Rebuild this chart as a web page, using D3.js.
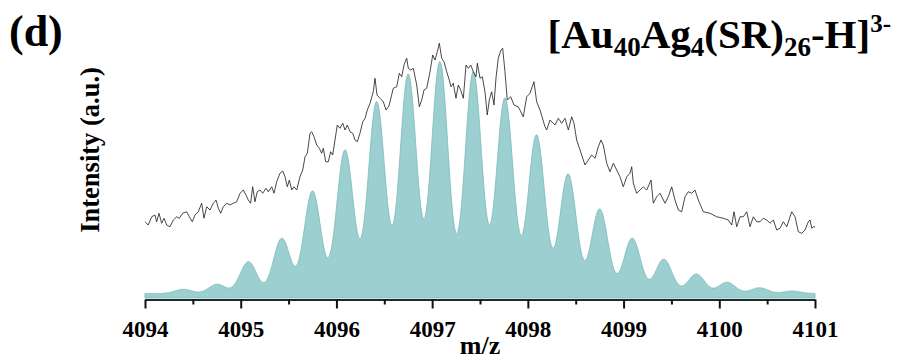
<!DOCTYPE html>
<html>
<head>
<meta charset="utf-8">
<script src="https://cdn.jsdelivr.net/npm/d3@7/dist/d3.min.js"></script>
<style>
  html, body { margin: 0; padding: 0; background: #fff; }
  svg { display: block; font-family: "Liberation Serif", "Times New Roman", serif; }
</style>
</head>
<body>
<svg id="chart" width="909" height="360"></svg>
<script>
// ---- data ----
const xTicks = [4094, 4095, 4096, 4097, 4098, 4099, 4100, 4101];
const xMinorTicks = [4094.5, 4095.5, 4096.5, 4097.5, 4098.5, 4099.5, 4100.5];

// simulated isotope pattern: peak m/z and relative intensity
const simPeakMz = [4094.40, 4094.755, 4095.08, 4095.43, 4095.75, 4096.09, 4096.42, 4096.75, 4097.08, 4097.43,
                   4097.76, 4098.09, 4098.42, 4098.75, 4099.09, 4099.42, 4099.76, 4100.08, 4100.42, 4100.76];
const simPeakInt = [1.7, 3.7, 12.7, 22.1, 41.0, 57.4, 76.7, 87.7, 92.7, 88.7,
                    78.1, 63.4, 47.8, 33.8, 22.1, 13.7, 7.8, 4.5, 2.3, 1.0];
const simBaseline = 1.8;
const simPeakSigma = 0.087;

const expMz = [4094.000,4094.034,4094.070,4094.104,4094.122,4094.146,4094.174,4094.199,4094.227,4094.261,
4094.296,4094.331,4094.358,4094.394,4094.436,4094.463,4094.494,4094.522,4094.557,4094.592,
4094.616,4094.645,4094.679,4094.714,4094.742,4094.766,4094.791,4094.818,4094.854,4094.888,
4094.923,4094.958,4094.993,4095.027,4095.055,4095.079,4095.104,4095.125,4095.149,4095.173,
4095.202,4095.230,4095.264,4095.288,4095.324,4095.348,4095.376,4095.410,4095.439,4095.463,
4095.487,4095.508,4095.533,4095.557,4095.585,4095.619,4095.648,4095.672,4095.696,4095.724,
4095.742,4095.766,4095.794,4095.821,4095.846,4095.863,4095.888,4095.915,4095.940,4095.961,
4095.985,4096.009,4096.037,4096.066,4096.090,4096.114,4096.142,4096.170,4096.194,4096.218,
4096.246,4096.275,4096.299,4096.323,4096.351,4096.385,4096.403,4096.424,4096.455,4096.490,
4096.518,4096.549,4096.594,4096.630,4096.657,4096.682,4096.706,4096.734,4096.751,4096.776,
4096.803,4096.839,4096.866,4096.891,4096.915,4096.943,4096.978,4097.006,4097.030,4097.054,
4097.075,4097.100,4097.124,4097.152,4097.179,4097.197,4097.221,4097.249,4097.273,4097.298,
4097.326,4097.354,4097.378,4097.403,4097.430,4097.458,4097.472,4097.500,4097.524,4097.552,
4097.576,4097.597,4097.622,4097.646,4097.667,4097.691,4097.720,4097.737,4097.761,4097.785,
4097.821,4097.855,4097.900,4097.952,4097.988,4098.022,4098.064,4098.092,4098.127,4098.179,
4098.197,4098.231,4098.284,4098.318,4098.354,4098.388,4098.423,4098.458,4098.482,4098.510,
4098.545,4098.597,4098.632,4098.667,4098.702,4098.736,4098.764,4098.788,4098.824,4098.858,
4098.893,4098.928,4098.963,4098.997,4099.033,4099.067,4099.085,4099.102,4099.137,4099.172,
4099.206,4099.242,4099.287,4099.311,4099.346,4099.381,4099.433,4099.467,4099.503,4099.537,
4099.572,4099.607,4099.642,4099.676,4099.712,4099.746,4099.781,4099.833,4099.903,4099.973,
4100.042,4100.094,4100.130,4100.154,4100.182,4100.217,4100.251,4100.287,4100.321,4100.356,
4100.391,4100.426,4100.460,4100.496,4100.530,4100.565,4100.600,4100.635,4100.669,4100.705,
4100.757,4100.791,4100.826,4100.861,4100.896,4100.930,4100.948,4100.966,4100.982,4101.000];
const expInt = [30.5,29.2,32.5,33.2,30.5,33.9,29.9,31.9,29.2,28.5,
31.2,32.5,31.9,33.9,34.5,32.5,30.5,33.2,34.5,37.9,
31.9,36.5,35.2,37.9,39.2,35.9,33.9,36.5,37.9,37.2,
37.9,38.5,41.9,43.2,41.2,39.2,37.9,44.5,38.5,42.5,
43.2,41.9,43.9,42.5,44.5,41.9,46.5,49.9,50.8,48.5,
44.5,47.2,43.2,44.5,43.2,48.5,51.2,56.5,57.9,65.9,
66.5,64.5,61.2,59.9,57.9,59.9,54.5,54.5,58.5,57.2,
63.2,69.2,67.9,69.9,67.2,69.2,66.5,65.9,63.2,62.5,
65.9,70.5,71.9,75.2,77.9,82.5,87.9,81.2,79.9,78.5,
75.2,76.8,83.9,84.5,89.9,88.5,93.2,95.9,91.9,91.2,
91.9,85.2,76.5,79.2,83.2,83.9,90.5,97.2,95.2,98.5,
101.9,95.9,94.5,90.5,87.2,84.5,85.9,79.9,85.2,83.2,
79.9,93.2,91.9,93.2,90.5,88.5,93.9,87.9,88.5,82.5,
73.2,79.2,82.5,77.2,87.9,95.9,99.2,99.9,90.5,79.2,
80.5,77.2,76.5,72.5,80.5,81.9,86.5,78.5,75.2,68.5,
67.2,71.2,69.2,71.9,69.9,71.9,67.2,72.5,69.9,63.2,
59.2,53.2,55.2,57.2,55.9,60.5,63.2,61.2,53.9,50.5,
53.9,51.2,48.5,44.5,48.5,49.9,52.5,45.9,41.9,43.2,
44.5,43.2,47.2,37.9,40.5,41.9,37.9,40.5,44.5,39.2,
35.2,34.5,40.5,42.5,41.9,43.2,39.2,34.5,33.9,32.5,
31.9,31.2,29.2,34.5,28.5,32.5,32.5,34.5,28.5,32.5,
30.5,30.5,31.9,31.2,29.9,31.2,27.2,27.9,30.5,28.5,
34.5,32.5,26.5,25.9,27.2,30.5,31.2,27.9,28.5,28.4];

// ---- drawing ----
const svg = d3.select("#chart");
const x = d3.scaleLinear().domain([4094, 4101]).range([145, 815]);
const y = d3.scaleLinear().domain([0, 100]).range([298, 48]);

// simulated curve sampled from peak list (gaussian peak shape)
const simCurve = d3.range(4094, 4101.0001, 0.004).map(m => {
  let v = simBaseline;
  for (let i = 0; i < simPeakMz.length; i++) {
    const d = m - simPeakMz[i];
    v += simPeakInt[i] * Math.exp(-d * d / (2 * simPeakSigma * simPeakSigma));
  }
  return [m, v];
});

svg.append("path")
  .datum(simCurve)
  .attr("fill", "#9ccfcf")
  .attr("stroke", "#7ab9b9")
  .attr("stroke-width", 0.8)
  .attr("d", d3.area().x(d => x(d[0])).y0(y(0)).y1(d => y(d[1])).curve(d3.curveLinear));

// experimental line
const expData = expMz.map((m, i) => [m, expInt[i]]);
svg.append("path")
  .datum(expData)
  .attr("fill", "none")
  .attr("stroke", "#1a1a1a")
  .attr("stroke-width", 0.8)
  .attr("stroke-linejoin", "round")
  .attr("d", d3.line().x(d => x(d[0])).y(d => y(d[1])));

// x axis
const axisG = svg.append("g").attr("transform", "translate(0,299.5)");
axisG.call(d3.axisBottom(x).tickValues(xTicks).tickSize(9).tickSizeOuter(0).tickFormat(d3.format("d")).tickPadding(12));
axisG.select(".domain").attr("stroke", "#1c2b2b").attr("stroke-width", 2);
axisG.selectAll(".tick line").attr("stroke", "#111").attr("stroke-width", 2);
axisG.selectAll(".tick text")
  .attr("font-family", "Liberation Serif, serif")
  .attr("font-weight", "bold")
  .attr("font-size", 23)
  .attr("fill", "#000");

const minorG = svg.append("g").attr("transform", "translate(0,299.5)");
minorG.call(d3.axisBottom(x).tickValues(xMinorTicks).tickSize(5).tickFormat(""));
minorG.select(".domain").remove();
minorG.selectAll(".tick line").attr("stroke", "#111").attr("stroke-width", 2);

// axis titles
svg.append("text")
  .attr("x", 480).attr("y", 354)
  .attr("text-anchor", "middle")
  .attr("font-weight", "bold").attr("font-size", 26)
  .text("m/z");

svg.append("text")
  .attr("transform", "translate(99,150) rotate(-90)")
  .attr("text-anchor", "middle")
  .attr("font-weight", "bold").attr("font-size", 26.5)
  .text("Intensity (a.u.)");

// panel label
svg.append("text")
  .attr("x", 9).attr("y", 46)
  .attr("font-weight", "bold").attr("font-size", 44)
  .text("(d)");

// formula title
const t = svg.append("text")
  .attr("x", 891).attr("y", 48)
  .attr("text-anchor", "end")
  .attr("font-weight", "bold").attr("font-size", 41);
t.append("tspan").text("[Au");
t.append("tspan").attr("font-size", 27).attr("dy", 8).text("40");
t.append("tspan").attr("dy", -8).text("Ag");
t.append("tspan").attr("font-size", 27).attr("dy", 8).text("4");
t.append("tspan").attr("dy", -8).text("(SR)");
t.append("tspan").attr("font-size", 27).attr("dy", 8).text("26");
t.append("tspan").attr("dy", -8).text("-H]");
t.append("tspan").attr("font-size", 25).attr("dy", -16).text("3-");
</script>
</body>
</html>
